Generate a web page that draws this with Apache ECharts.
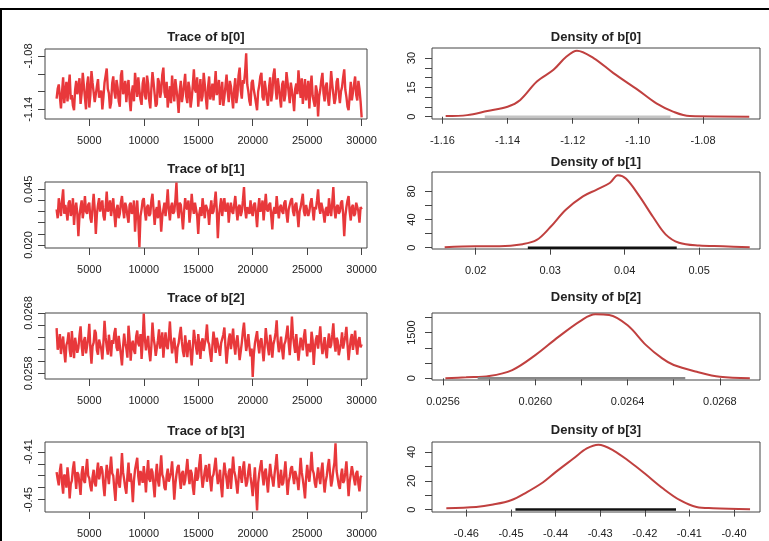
<!DOCTYPE html>
<html>
<head>
<meta charset="utf-8">
<script src="https://cdn.jsdelivr.net/npm/echarts@6/dist/echarts.min.js"></script>
<style>
html, body { margin: 0; padding: 0; background: #fff; }
#main { width: 769px; height: 541px; }
</style>
</head>
<body>
<div id="main"></div>
<script>
// chain kept from iteration 2000 to 30000, one draw every 100
var iterStart = 2000;
var iterStep = 100;

var traceB0 = [
    -1.128,-1.117,-1.112,-1.126,-1.139,-1.120,-1.104,-1.133,-1.121,-1.109,-1.131,-1.115,-1.101,-1.129,-1.124,-1.136,-1.141,-1.118,-1.108,-1.123,
    -1.116,-1.105,-1.134,-1.122,-1.099,-1.113,-1.127,-1.140,-1.112,-1.103,-1.138,-1.124,-1.097,-1.110,-1.121,-1.132,-1.130,-1.114,-1.106,-1.127,
    -1.125,-1.119,-1.140,-1.126,-1.110,-1.102,-1.094,-1.117,-1.122,-1.139,-1.133,-1.111,-1.103,-1.120,-1.128,-1.107,-1.115,-1.131,-1.137,-1.102,
    -1.096,-1.123,-1.119,-1.108,-1.132,-1.116,-1.107,-1.129,-1.142,-1.121,-1.113,-1.131,-1.099,-1.112,-1.126,-1.104,-1.118,-1.129,-1.135,-1.111,
    -1.104,-1.124,-1.129,-1.102,-1.111,-1.130,-1.139,-1.116,-1.098,-1.110,-1.123,-1.137,-1.134,-1.105,-1.109,-1.127,-1.120,-1.101,-1.093,-1.121,
    -1.127,-1.109,-1.138,-1.125,-1.114,-1.133,-1.102,-1.119,-1.131,-1.106,-1.117,-1.128,-1.144,-1.120,-1.108,-1.132,-1.123,-1.112,-1.100,-1.126,
    -1.133,-1.109,-1.116,-1.138,-1.128,-1.113,-1.095,-1.118,-1.121,-1.104,-1.137,-1.120,-1.106,-1.131,-1.125,-1.099,-1.112,-1.127,-1.140,-1.115,
    -1.103,-1.129,-1.122,-1.111,-1.130,-1.116,-1.097,-1.124,-1.118,-1.107,-1.135,-1.121,-1.109,-1.136,-1.126,-1.114,-1.101,-1.120,-1.132,-1.108,
    -1.114,-1.127,-1.139,-1.117,-1.105,-1.133,-1.124,-1.102,-1.093,-1.119,-1.128,-1.107,-1.111,-1.098,-1.077,-1.112,-1.120,-1.131,-1.136,-1.110,
    -1.107,-1.118,-1.125,-1.133,-1.141,-1.120,-1.113,-1.103,-1.099,-1.126,-1.130,-1.108,-1.117,-1.129,-1.136,-1.115,-1.104,-1.131,-1.122,-1.101,
    -1.094,-1.116,-1.129,-1.105,-1.115,-1.127,-1.138,-1.112,-1.108,-1.131,-1.123,-1.098,-1.100,-1.121,-1.133,-1.110,-1.119,-1.128,-1.142,-1.117,
    -1.111,-1.123,-1.096,-1.114,-1.127,-1.105,-1.134,-1.119,-1.106,-1.130,-1.121,-1.108,-1.139,-1.116,-1.102,-1.125,-1.124,-1.137,-1.113,-1.120,
    -1.148,-1.126,-1.118,-1.107,-1.099,-1.122,-1.131,-1.114,-1.110,-1.128,-1.136,-1.119,-1.097,-1.112,-1.123,-1.134,-1.128,-1.109,-1.105,-1.121,
    -1.133,-1.120,-1.115,-1.104,-1.095,-1.118,-1.126,-1.137,-1.141,-1.125,-1.109,-1.130,-1.121,-1.112,-1.103,-1.124,-1.130,-1.108,-1.117,-1.131,
    -1.149];
var traceB1 = [
    0.036,0.032,0.041,0.037,0.033,0.040,0.045,0.034,0.038,0.035,0.031,0.039,0.040,0.033,0.035,0.041,0.029,0.036,0.039,0.034,
    0.024,0.033,0.037,0.040,0.032,0.036,0.042,0.035,0.034,0.038,0.039,0.032,0.030,0.037,0.043,0.036,0.025,0.034,0.038,0.041,
    0.035,0.038,0.040,0.033,0.031,0.037,0.044,0.035,0.036,0.040,0.033,0.037,0.041,0.034,0.028,0.036,0.038,0.032,0.034,0.039,
    0.042,0.036,0.032,0.039,0.037,0.033,0.030,0.038,0.039,0.034,0.035,0.040,0.026,0.034,0.040,0.031,0.019,0.033,0.036,0.040,
    0.041,0.035,0.031,0.037,0.038,0.033,0.034,0.040,0.043,0.036,0.029,0.035,0.037,0.032,0.040,0.036,0.026,0.033,0.036,0.039,
    0.033,0.038,0.045,0.036,0.031,0.037,0.039,0.034,0.035,0.040,0.048,0.036,0.032,0.039,0.038,0.033,0.027,0.035,0.041,0.037,
    0.036,0.040,0.030,0.035,0.043,0.037,0.034,0.039,0.039,0.033,0.025,0.034,0.037,0.033,0.041,0.036,0.032,0.038,0.038,0.035,
    0.029,0.036,0.040,0.034,0.035,0.039,0.044,0.036,0.023,0.033,0.037,0.041,0.033,0.038,0.041,0.035,0.036,0.039,0.030,0.036,
    0.039,0.035,0.034,0.038,0.042,0.036,0.031,0.037,0.038,0.033,0.035,0.040,0.046,0.036,0.032,0.037,0.037,0.034,0.040,0.035,
    0.033,0.038,0.039,0.034,0.028,0.036,0.041,0.035,0.036,0.040,0.031,0.037,0.043,0.036,0.035,0.038,0.039,0.033,0.027,0.035,
    0.037,0.034,0.042,0.036,0.032,0.037,0.038,0.035,0.034,0.039,0.040,0.034,0.030,0.036,0.036,0.040,0.041,0.035,0.033,0.038,
    0.039,0.034,0.028,0.035,0.037,0.040,0.043,0.035,0.033,0.038,0.038,0.033,0.035,0.039,0.041,0.036,0.031,0.037,0.036,0.040,
    0.045,0.037,0.034,0.039,0.039,0.034,0.030,0.036,0.037,0.033,0.041,0.036,0.033,0.039,0.046,0.036,0.032,0.037,0.038,0.034,
    0.035,0.039,0.040,0.034,0.024,0.033,0.037,0.040,0.042,0.035,0.031,0.037,0.038,0.033,0.034,0.039,0.039,0.035,0.030,0.037,
    0.036];
var traceB2 = [
    0.02655,0.02619,0.02628,0.02645,0.02612,0.02630,0.02641,0.02616,0.02598,0.02627,0.02633,0.02648,0.02619,0.02607,0.02650,0.02624,0.02605,0.02639,0.02637,0.02614,
    0.02622,0.02643,0.02658,0.02626,0.02609,0.02634,0.02640,0.02613,0.02615,0.02638,0.02662,0.02621,0.02596,0.02625,0.02631,0.02652,0.02647,0.02618,0.02611,0.02636,
    0.02636,0.02620,0.02603,0.02632,0.02667,0.02640,0.02624,0.02611,0.02644,0.02627,0.02608,0.02635,0.02629,0.02647,0.02655,0.02623,0.02617,0.02642,0.02639,0.02610,
    0.02593,0.02624,0.02646,0.02630,0.02621,0.02606,0.02659,0.02637,0.02601,0.02628,0.02634,0.02618,0.02612,0.02641,0.02651,0.02629,0.02625,0.02645,0.02604,0.02633,
    0.02679,0.02638,0.02618,0.02631,0.02642,0.02615,0.02600,0.02626,0.02664,0.02639,0.02627,0.02609,0.02610,0.02635,0.02653,0.02621,0.02632,0.02648,0.02606,0.02630,
    0.02648,0.02625,0.02620,0.02641,0.02666,0.02634,0.02613,0.02628,0.02639,0.02619,0.02597,0.02623,0.02630,0.02645,0.02657,0.02632,0.02616,0.02607,0.02643,0.02626,
    0.02607,0.02629,0.02635,0.02614,0.02593,0.02622,0.02652,0.02637,0.02623,0.02611,0.02645,0.02628,0.02604,0.02631,0.02638,0.02617,0.02619,0.02640,0.02661,0.02633,
    0.02628,0.02612,0.02599,0.02626,0.02649,0.02635,0.02614,0.02639,0.02641,0.02620,0.02609,0.02630,0.02633,0.02644,0.02656,0.02624,0.02596,0.02618,0.02637,0.02646,
    0.02620,0.02636,0.02654,0.02627,0.02611,0.02633,0.02643,0.02622,0.02602,0.02616,0.02631,0.02650,0.02664,0.02638,0.02617,0.02629,0.02645,0.02624,0.02608,0.02621,
    0.02574,0.02611,0.02629,0.02640,0.02650,0.02627,0.02613,0.02634,0.02638,0.02619,0.02600,0.02625,0.02655,0.02636,0.02622,0.02610,0.02644,0.02631,0.02606,0.02628,
    0.02636,0.02647,0.02668,0.02632,0.02615,0.02626,0.02641,0.02619,0.02603,0.02628,0.02633,0.02645,0.02659,0.02630,0.02610,0.02637,0.02674,0.02642,0.02627,0.02614,
    0.02645,0.02623,0.02601,0.02620,0.02639,0.02631,0.02618,0.02641,0.02653,0.02627,0.02608,0.02629,0.02632,0.02615,0.02649,0.02635,0.02594,0.02622,0.02636,0.02643,
    0.02621,0.02638,0.02658,0.02629,0.02612,0.02625,0.02640,0.02617,0.02605,0.02632,0.02646,0.02622,0.02627,0.02644,0.02663,0.02631,0.02616,0.02639,0.02634,0.02610,
    0.02609,0.02630,0.02648,0.02621,0.02624,0.02642,0.02657,0.02628,0.02602,0.02620,0.02637,0.02645,0.02619,0.02633,0.02651,0.02626,0.02611,0.02635,0.02640,0.02623,
    0.02628];
var traceB3 = [
    -0.427,-0.433,-0.438,-0.426,-0.420,-0.436,-0.445,-0.429,-0.431,-0.440,-0.423,-0.432,-0.449,-0.437,-0.434,-0.424,-0.418,-0.430,-0.441,-0.427,
    -0.429,-0.437,-0.446,-0.428,-0.422,-0.434,-0.436,-0.425,-0.416,-0.430,-0.432,-0.439,-0.443,-0.431,-0.425,-0.436,-0.439,-0.427,-0.419,-0.433,
    -0.434,-0.422,-0.426,-0.438,-0.447,-0.432,-0.421,-0.429,-0.437,-0.425,-0.414,-0.428,-0.430,-0.441,-0.451,-0.433,-0.424,-0.436,-0.440,-0.428,
    -0.411,-0.427,-0.433,-0.440,-0.445,-0.430,-0.419,-0.435,-0.428,-0.437,-0.452,-0.434,-0.425,-0.420,-0.415,-0.431,-0.438,-0.426,-0.430,-0.436,
    -0.422,-0.431,-0.444,-0.428,-0.417,-0.433,-0.435,-0.424,-0.427,-0.438,-0.448,-0.430,-0.420,-0.434,-0.439,-0.426,-0.413,-0.429,-0.432,-0.440,
    -0.442,-0.430,-0.424,-0.435,-0.436,-0.427,-0.418,-0.433,-0.450,-0.437,-0.429,-0.423,-0.421,-0.432,-0.441,-0.428,-0.426,-0.438,-0.434,-0.425,
    -0.416,-0.429,-0.437,-0.425,-0.428,-0.439,-0.446,-0.432,-0.423,-0.434,-0.431,-0.420,-0.412,-0.430,-0.440,-0.433,-0.426,-0.421,-0.435,-0.428,
    -0.420,-0.434,-0.443,-0.431,-0.429,-0.422,-0.415,-0.428,-0.437,-0.432,-0.425,-0.439,-0.448,-0.430,-0.419,-0.427,-0.433,-0.441,-0.427,-0.424,
    -0.441,-0.428,-0.414,-0.426,-0.430,-0.437,-0.445,-0.433,-0.422,-0.429,-0.436,-0.424,-0.418,-0.431,-0.439,-0.435,-0.426,-0.420,-0.431,-0.438,
    -0.447,-0.434,-0.423,-0.441,-0.459,-0.436,-0.428,-0.422,-0.417,-0.430,-0.438,-0.427,-0.424,-0.435,-0.444,-0.431,-0.420,-0.429,-0.433,-0.439,
    -0.429,-0.421,-0.412,-0.427,-0.440,-0.433,-0.425,-0.438,-0.436,-0.428,-0.418,-0.432,-0.446,-0.435,-0.431,-0.424,-0.422,-0.430,-0.437,-0.426,
    -0.426,-0.434,-0.442,-0.429,-0.415,-0.427,-0.433,-0.440,-0.449,-0.432,-0.421,-0.430,-0.435,-0.424,-0.410,-0.425,-0.428,-0.436,-0.440,-0.431,
    -0.423,-0.431,-0.437,-0.426,-0.419,-0.433,-0.444,-0.435,-0.430,-0.422,-0.416,-0.428,-0.439,-0.434,-0.425,-0.419,-0.403,-0.426,-0.432,-0.438,
    -0.441,-0.430,-0.424,-0.436,-0.434,-0.427,-0.418,-0.432,-0.447,-0.435,-0.429,-0.422,-0.421,-0.433,-0.438,-0.428,-0.426,-0.437,-0.443,-0.431,
    -0.430];

// kernel density curves
var densB0X = [-1.159,-1.1524,-1.1462,-1.14,-1.1361,-1.131,-1.1259,-1.1219,-1.1187,-1.1136,-1.1075,-1.10,-1.0943,-1.0892,-1.0841,-1.0658];
var densB0Y = [0.3,0.8,2.9,5.1,8.6,18,24,30.8,33.8,30,22.3,13.7,6.8,2.6,0.3,0];
var densB1X = [0.01583,0.0200,0.0232,0.0263,0.0282,0.0300,0.0321,0.0344,0.0362,0.0380,0.0391,0.0402,0.0420,0.0438,0.0455,0.0473,0.0500,0.0532,0.0568];
var densB1Y = [0.5,2,2,5,11,29,54,73,82.4,92,103,98,73,44,19,7,3,2,0.5];
var densB2X = [0.02561,0.02570,0.02580,0.02590,0.02600,0.02610,0.02620,0.02626,0.02632,0.02640,0.02648,0.02655,0.02660,0.02670,0.02680,0.02693];
var densB2Y = [0,33,75,271,761,1360,1905,2100,2080,1740,1090,653,435,215,50,0];
var densB3X = [-0.4645,-0.4578,-0.4540,-0.45,-0.4465,-0.4428,-0.44,-0.436,-0.433,-0.4304,-0.427,-0.4233,-0.42,-0.4159,-0.4121,-0.4084,-0.4047,-0.3964];
var densB3Y = [1,1.8,3.5,6.5,12,19,26,35.4,42.4,45,41,33,25,14.6,6.5,1.8,1,0.3];

// rug extents along the density baselines
var rugB0 = [-1.147, -1.090];
var rugB1 = [0.027, 0.047];
var rugB2 = [0.02575, 0.02665];
var rugB3 = [-0.449, -0.413];

// ticks and labels
var traceXTicks = [5000, 10000, 15000, 20000, 25000, 30000];
var traceB0Ticks = [-1.14, -1.12, -1.10, -1.08], traceB0Labels = [-1.14, -1.08];
var traceB1Ticks = [0.020, 0.025, 0.030, 0.035, 0.040, 0.045], traceB1Labels = [0.020, 0.045];
var traceB2Ticks = [0.0258, 0.0260, 0.0262, 0.0264, 0.0266, 0.0268], traceB2Labels = [0.0258, 0.0268];
var traceB3Ticks = [-0.45, -0.44, -0.43, -0.42, -0.41], traceB3Labels = [-0.45, -0.41];
var densB0XTicks = [-1.16, -1.14, -1.12, -1.10, -1.08];
var densB1XTicks = [0.02, 0.03, 0.04, 0.05];
var densB2XTicks = [0.0256, 0.0258, 0.0260, 0.0262, 0.0264, 0.0266, 0.0268], densB2XLabels = [0.0256, 0.0260, 0.0264, 0.0268];
var densB3XTicks = [-0.46, -0.45, -0.44, -0.43, -0.42, -0.41, -0.40];
var densB0YTicks = [0, 5, 10, 15, 20, 25, 30], densB0YLabels = [0, 15, 30];
var densB1YTicks = [0, 20, 40, 60, 80], densB1YLabels = [0, 40, 80];
var densB2YTicks = [0, 500, 1000, 1500, 2000], densB2YLabels = [0, 1500];
var densB3YTicks = [0, 10, 20, 30, 40], densB3YLabels = [0, 20, 40];

var FONT = 'Liberation Sans, Arial, sans-serif';
var INK = '#222';
var BOX = '#444';

var rows = [
    {name: 'b[0]', trace: traceB0, tY: [-1.1509, -1.0721], tTicks: traceB0Ticks, tLabels: traceB0Labels, tDec: 2,
     dX: densB0X, dY: densB0Y, rug: rugB0, rugColor: '#c4c4c4', dXRange: [-1.1632, -1.0625], dXTicks: densB0XTicks, dXLabels: densB0XTicks, dXDec: 2,
     dYRange: [-1.18, 35.15], dYTicks: densB0YTicks, dYLabels: densB0YLabels,
     tTop: 49, tH: 70, dTop: 48, dH: 71, tTitle: 37, dTitle: 37},
    {name: 'b[1]', trace: traceB1, tY: [0.01865, 0.04828], tTicks: traceB1Ticks, tLabels: traceB1Labels, tDec: 3,
     dX: densB1X, dY: densB1Y, rug: rugB1, rugColor: '#111', dXRange: [0.01413, 0.05818], dXTicks: densB1XTicks, dXLabels: densB1XTicks, dXDec: 2,
     dYRange: [-1.86, 107.7], dYTicks: densB1YTicks, dYLabels: densB1YLabels,
     tTop: 182, tH: 66, dTop: 172, dH: 77, tTitle: 169, dTitle: 162},
    {name: 'b[2]', trace: traceB2, tY: [0.025706, 0.0268], tTicks: traceB2Ticks, tLabels: traceB2Labels, tDec: 4,
     dX: densB2X, dY: densB2Y, rug: rugB2, rugColor: '#888', dXRange: [0.025552, 0.026974], dXTicks: densB2XTicks, dXLabels: densB2XLabels, dXDec: 4,
     dYRange: [-55.6, 2144], dYTicks: densB2YTicks, dYLabels: densB2YLabels,
     tTop: 313, tH: 66, dTop: 313, dH: 67, tTitle: 298, dTitle: 297},
    {name: 'b[3]', trace: traceB3, tY: [-0.46027, -0.40183], tTicks: traceB3Ticks, tLabels: traceB3Labels, tDec: 2,
     dX: densB3X, dY: densB3Y, rug: rugB3, rugColor: '#111', dXRange: [-0.46771, -0.39417], dXTicks: densB3XTicks, dXLabels: densB3XTicks, dXDec: 2,
     dYRange: [-1.67, 46.9], dYTicks: densB3YTicks, dYLabels: densB3YLabels,
     tTop: 442, tH: 70, dTop: 442, dH: 70, tTitle: 431, dTitle: 430}
];

function xAxisOf(idx, range, ticks, labels, dec) {
    return {
        type: 'value', gridIndex: idx, min: range[0], max: range[1],
        axisLine: {show: false}, splitLine: {show: false},
        axisTick: {show: true, length: 7, customValues: ticks, lineStyle: {color: BOX}},
        axisLabel: {customValues: labels, margin: 16, fontSize: 11, color: INK, fontFamily: FONT,
            formatter: function (v) { return dec === 0 ? String(Math.round(v)) : v.toFixed(dec); }}
    };
}
function yAxisOf(idx, range, ticks, labels, dec, margin) {
    return {
        type: 'value', gridIndex: idx, min: range[0], max: range[1],
        axisLine: {show: false}, splitLine: {show: false},
        axisTick: {show: true, length: 7, customValues: ticks, lineStyle: {color: BOX}},
        axisLabel: {customValues: labels, rotate: 90, margin: margin, fontSize: 11, color: INK, fontFamily: FONT,
            formatter: function (v) { return dec === 0 ? String(Math.round(v)) : v.toFixed(dec); }}
    };
}

var grids = [], xAxes = [], yAxes = [], series = [], graphics = [];
rows.forEach(function (r, i) {
    var ti = 2 * i, di = 2 * i + 1;
    grids.push({left: 45, top: r.tTop, width: 322, height: r.tH, show: true, borderColor: BOX, borderWidth: 1});
    grids.push({left: 432, top: r.dTop, width: 328, height: r.dH, show: true, borderColor: BOX, borderWidth: 1});
    xAxes.push(xAxisOf(ti, [935, 30490], traceXTicks, traceXTicks, 0));
    xAxes.push(xAxisOf(di, r.dXRange, r.dXTicks, r.dXLabels, r.dXDec));
    yAxes.push(yAxisOf(ti, r.tY, r.tTicks, r.tLabels, r.tDec, 11));
    yAxes.push(yAxisOf(di, r.dYRange, r.dYTicks, r.dYLabels, 0, 15));

    series.push({
        type: 'line', xAxisIndex: ti, yAxisIndex: ti, symbol: 'none', sampling: null,
        data: r.trace.map(function (v, k) { return [iterStart + k * iterStep, v]; }),
        lineStyle: {color: '#e8383b', width: 2.4, join: 'bevel'}
    });
    series.push({
        type: 'line', xAxisIndex: di, yAxisIndex: di, symbol: 'none', smooth: 0.35,
        data: r.dX.map(function (x, k) { return [x, r.dY[k]]; }),
        lineStyle: {color: '#c0403f', width: 2}
    });
    series.push({
        type: 'line', xAxisIndex: di, yAxisIndex: di, symbol: 'none',
        data: r.rug.map(function (x) { return [x, 0]; }),
        lineStyle: {color: r.rugColor, width: 2.5}
    });

    graphics.push({type: 'text', x: 206, y: r.tTitle,
        style: {text: 'Trace of ' + r.name, font: 'bold 13px ' + FONT, fill: INK, textAlign: 'center', textVerticalAlign: 'middle'}});
    graphics.push({type: 'text', x: 596, y: r.dTitle,
        style: {text: 'Density of ' + r.name, font: 'bold 13px ' + FONT, fill: INK, textAlign: 'center', textVerticalAlign: 'middle'}});
});

// page frame, left and top
graphics.push({type: 'line', shape: {x1: 1, y1: 9, x2: 1, y2: 541}, style: {stroke: '#000', lineWidth: 2}});
graphics.push({type: 'line', shape: {x1: 0, y1: 9, x2: 769, y2: 9}, style: {stroke: '#000', lineWidth: 2}});

var myChart = echarts.init(document.getElementById('main'));
var option = {
    backgroundColor: '#fff',
    animation: false,
    grid: grids,
    xAxis: xAxes,
    yAxis: yAxes,
    series: series,
    graphic: graphics
};
myChart.setOption(option);
</script>
</body>
</html>
